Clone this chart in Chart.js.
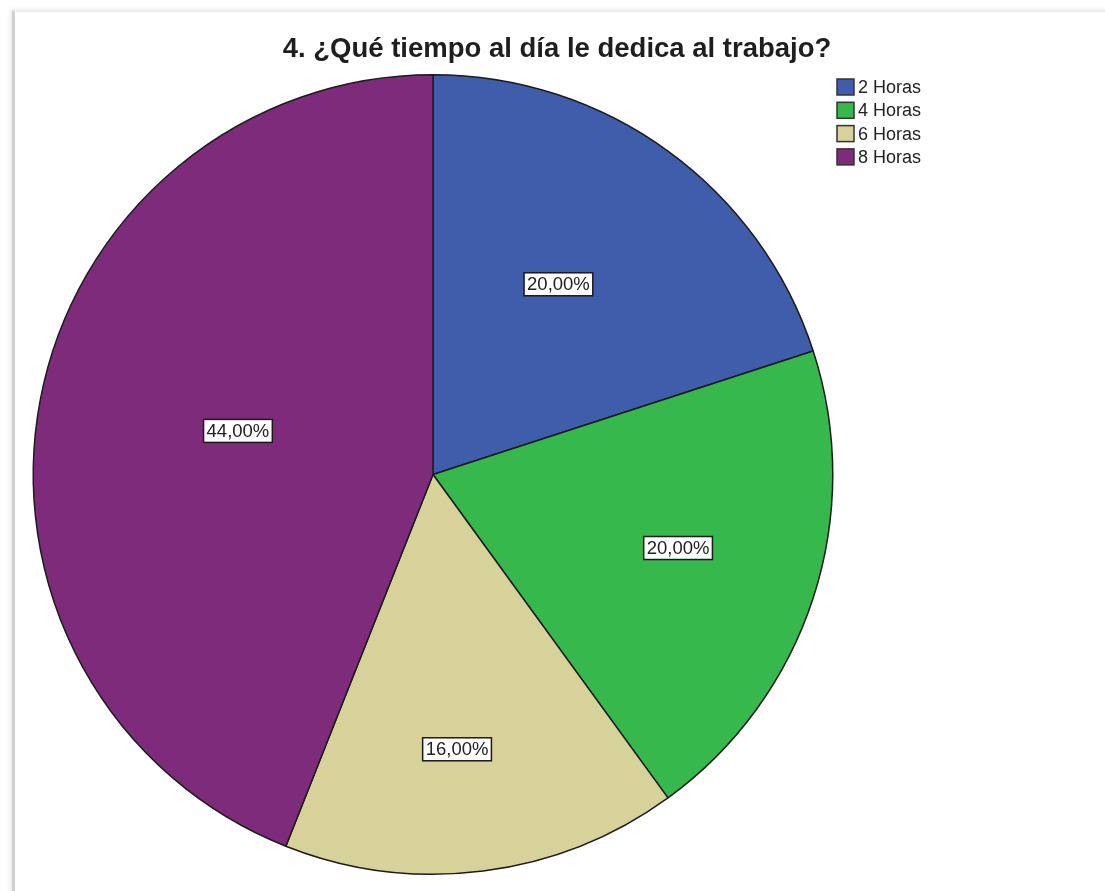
<!DOCTYPE html>
<html>
<head>
<meta charset="utf-8">
<title>Tiempo dedicado al trabajo</title>
<script src="https://cdn.jsdelivr.net/npm/chart.js@4.4.1/dist/chart.umd.min.js"></script>
<style>
    html, body {
        margin: 0;
        padding: 0;
        background: #ffffff;
        overflow: hidden;
    }
    .frame {
        position: absolute;
        left: 12px;
        top: 10px;
        width: 1200px;
        height: 1000px;
        border-left: 3px solid #cfcfcf;
        border-top: 2px solid #ececec;
        box-shadow: -2px -1px 4px rgba(0, 0, 0, 0.08);
    }
    #wrap {
        position: absolute;
        left: 0;
        top: 0;
        width: 1105px;
        height: 891px;
    }
</style>
</head>
<body>
<div class="frame"></div>
<div id="wrap"><canvas id="pieChart" width="1105" height="891"></canvas></div>

<script>
// ===== Chart Data =====
const chartTitle = '4. ¿Qué tiempo al día le dedica al trabajo?';
const categories = ['2 Horas', '4 Horas', '6 Horas', '8 Horas'];
const percentages = [20, 20, 16, 44];
const sliceColors = ['#405dac', '#36b84d', '#d6d29a', '#7e2b7c'];

// label placement inside each slice (fraction of radius, angle nudge in degrees)
const labelRadius = [0.57, 0.64, 0.69, 0.50];
const labelNudge = [-2.6, -1.3, 2.2, 1.8];

function formatPct(v) {
    return v.toFixed(2).replace('.', ',') + '%';
}

// ===== Title, legend and value boxes =====
const decorPlugin = {
    id: 'decor',
    afterDatasetsDraw(chart) {
        const ctx = chart.ctx;
        const meta = chart.getDatasetMeta(0);

        // value boxes
        ctx.save();
        ctx.font = '18.5px Arial, "Liberation Sans", sans-serif';
        ctx.textAlign = 'center';
        ctx.textBaseline = 'middle';
        meta.data.forEach((arc, i) => {
            const p = arc.getProps(['x', 'y', 'startAngle', 'endAngle', 'outerRadius'], true);
            const mid = (p.startAngle + p.endAngle) / 2 + labelNudge[i] * Math.PI / 180;
            const r = p.outerRadius * labelRadius[i];
            const x = p.x + Math.cos(mid) * r;
            const y = p.y + Math.sin(mid) * r;
            const text = formatPct(percentages[i]);
            const w = ctx.measureText(text).width + 6;
            const h = 23;
            ctx.fillStyle = '#ffffff';
            ctx.fillRect(x - w / 2, y - h / 2, w, h);
            ctx.strokeStyle = '#1a1a1a';
            ctx.lineWidth = 1.5;
            ctx.strokeRect(x - w / 2, y - h / 2, w, h);
            ctx.fillStyle = '#222222';
            ctx.fillText(text, x, y + 1);
        });
        ctx.restore();
    },
    afterDraw(chart) {
        const ctx = chart.ctx;
        ctx.save();

        // title
        ctx.font = 'bold 27.5px Arial, "Liberation Sans", sans-serif';
        ctx.fillStyle = '#1e1e1e';
        ctx.textAlign = 'center';
        ctx.textBaseline = 'middle';
        ctx.fillText(chartTitle, 557, 49);

        // legend
        ctx.font = '18px Arial, "Liberation Sans", sans-serif';
        ctx.textAlign = 'left';
        categories.forEach((name, i) => {
            const y = 87 + i * 23.3;
            ctx.fillStyle = sliceColors[i];
            ctx.fillRect(837, y - 8, 17, 16);
            ctx.strokeStyle = '#333333';
            ctx.lineWidth = 1.5;
            ctx.strokeRect(837, y - 8, 17, 16);
            ctx.fillStyle = '#222222';
            ctx.fillText(name, 858, y + 1);
        });

        ctx.restore();
    }
};

// ===== Pie Chart =====
const ctx = document.getElementById('pieChart').getContext('2d');
new Chart(ctx, {
    type: 'pie',
    data: {
        labels: categories,
        datasets: [{
            data: percentages,
            backgroundColor: sliceColors,
            borderColor: '#1c1c1c',
            borderWidth: 1.5
        }]
    },
    options: {
        responsive: false,
        animation: false,
        layout: {
            padding: { left: 32, right: 271, top: 74, bottom: 16 }
        },
        plugins: {
            legend: { display: false },
            title: { display: false },
            tooltip: { enabled: false }
        }
    },
    plugins: [decorPlugin]
});
</script>
</body>
</html>
